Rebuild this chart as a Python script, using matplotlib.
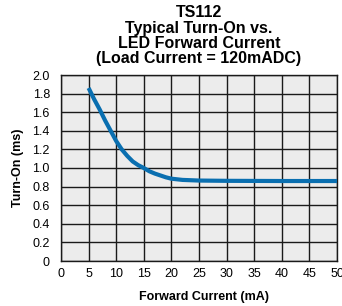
import matplotlib
matplotlib.use("Agg")
import matplotlib.pyplot as plt

plt.rcParams["font.family"] = ["Liberation Sans", "DejaVu Sans"]

# data
current_ma = [5, 6, 7, 8, 9, 10, 11, 12, 13, 14, 15, 16, 17, 18, 19, 20, 22, 25, 30, 40, 50]
turn_on_ms = [1.86, 1.74, 1.63, 1.51, 1.40, 1.29, 1.20, 1.13, 1.07, 1.03, 1.00,
              0.965, 0.94, 0.92, 0.90, 0.885, 0.872, 0.865, 0.862, 0.86, 0.86]
x_ticks = list(range(0, 51, 5))
y_ticks = [0, 0.2, 0.4, 0.6, 0.8, 1.0, 1.2, 1.4, 1.6, 1.8, 2.0]
y_labels = ["0", "0.2", "0.4", "0.6", "0.8", "1.0", "1.2", "1.4", "1.6", "1.8", "2.0"]
title_lines = ["TS112", "Typical Turn-On vs.", "LED Forward Current",
               "(Load Current = 120mADC)"]

W, H = 342, 306
fig = plt.figure(figsize=(W / 100, H / 100), dpi=100)
ax = fig.add_axes([61 / W, 1 - 261 / H, 276 / W, 186 / H])
ax.set_facecolor("#ececec")

ax.plot(current_ma, turn_on_ms, color="#0a6fb0", lw=3.0,
        solid_capstyle="butt", solid_joinstyle="round", zorder=3)

ax.set_xlim(0, 50)
ax.set_ylim(0, 2.0)
ax.set_xticks(x_ticks)
ax.set_yticks(y_ticks)
ax.set_yticklabels(y_labels)
ax.grid(True, color="#1a1a1a", lw=1.0)
ax.set_axisbelow(True)
ax.tick_params(length=0, labelsize=9)
ax.tick_params(axis="y", pad=8)
ax.tick_params(axis="x", pad=5)
for s in ax.spines.values():
    s.set_color("#1a1a1a")
    s.set_linewidth(1.0)

# axis labels placed in figure pixels
fig.text(204 / W, 1 - 297 / H, "Forward Current (mA)", ha="center", va="center",
         fontsize=9, fontweight="bold")
fig.text(18 / W, 1 - 168 / H, "Turn-On (ms)", ha="center", va="center",
         rotation=90, fontsize=9, fontweight="bold")

# title, one line at a time (baselines)
for txt, base in zip(title_lines, [17, 33, 48, 63]):
    fig.text(199 / W, 1 - base / H, txt, ha="center", va="baseline",
             fontsize=11.5, fontweight="bold")

fig.savefig("out.png", dpi=100)
